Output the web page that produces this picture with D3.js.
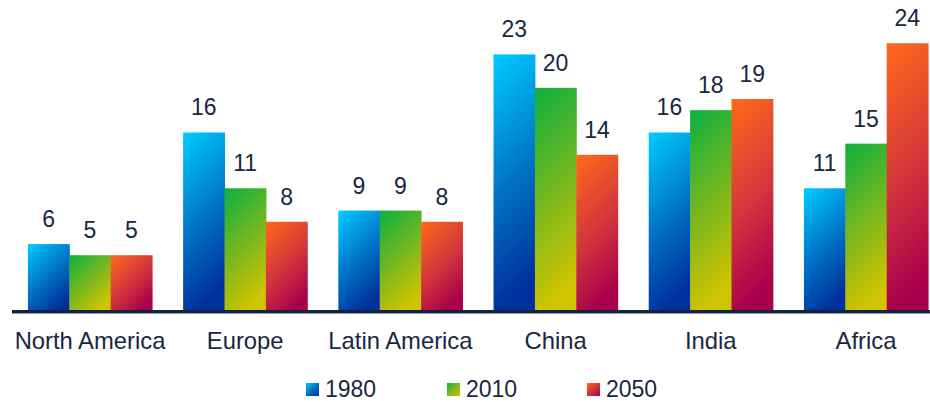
<!DOCTYPE html>
<html>
<head>
<meta charset="utf-8">
<script src="https://cdn.jsdelivr.net/npm/d3@7"></script>
<style>
  html, body { margin: 0; padding: 0; background: #fff; }
  svg { display: block; }
  text { font-family: "Liberation Sans", Arial, sans-serif; fill: #17273f; }
</style>
</head>
<body>
<svg id="chart" width="930" height="402"></svg>
<script>
// Regions and the three years compared
const regions = ["North America", "Europe", "Latin America", "China", "India", "Africa"];
const years = ["1980", "2010", "2050"];

// Values per year, in region order
const values1980 = [6, 16, 9, 23, 16, 11];
const values2010 = [5, 11, 9, 20, 18, 15];
const values2050 = [5, 8, 8, 14, 19, 24];

const seriesValues = [values1980, values2010, values2050];

// Gradient stops (top-left → bottom-right) for each year
const palettes = [
  ["#00ccff", "#0070c4", "#00309c"],
  ["#0bb040", "#7fb81c", "#d0c400"],
  ["#ff6a1a", "#d2343c", "#a8004c"]
];

const W = 930, H = 402;
const baseY = 311;
const svg = d3.select("#chart");
const defs = svg.append("defs");

const x0 = d3.scaleBand().domain(regions).range([12.4, 943.6]).paddingInner(0.2).paddingOuter(0.1);
const x1 = d3.scaleBand().domain(years).range([0, x0.bandwidth()]).padding(0);
const y = d3.scaleLinear().domain([0, 24.2]).range([baseY, 41]);

const data = [];
regions.forEach((r, i) => {
  years.forEach((yr, j) => {
    data.push({ region: r, year: yr, s: j, value: seriesValues[j][i], id: `g${i}_${j}` });
  });
});

// One diagonal gradient per bar so the 45° bands span the bar from corner to corner
data.forEach(d => {
  const bx = x0(d.region) + x1(d.year);
  const bw = x1.bandwidth();
  const top = y(d.value);
  const h = baseY - top;
  const span = (bw + h) / 2;
  const g = defs.append("linearGradient")
    .attr("id", d.id)
    .attr("gradientUnits", "userSpaceOnUse")
    .attr("x1", bx).attr("y1", top)
    .attr("x2", bx + span).attr("y2", top + span);
  const p = palettes[d.s];
  g.append("stop").attr("offset", 0).attr("stop-color", p[0]);
  g.append("stop").attr("offset", 0.5).attr("stop-color", p[1]);
  g.append("stop").attr("offset", 0.88).attr("stop-color", p[2]);
  g.append("stop").attr("offset", 1).attr("stop-color", p[2]);
});

// Bars
svg.append("g").selectAll("rect").data(data).join("rect")
  .attr("x", d => x0(d.region) + x1(d.year))
  .attr("y", d => y(d.value))
  .attr("width", x1.bandwidth() + 0.5)
  .attr("height", d => baseY - y(d.value))
  .attr("fill", d => `url(#${d.id})`);

// Value labels
svg.append("g").selectAll("text").data(data).join("text")
  .attr("x", d => x0(d.region) + x1(d.year) + x1.bandwidth() / 2)
  .attr("y", d => y(d.value) - 17)
  .attr("text-anchor", "middle")
  .attr("font-size", 23)
  .text(d => d.value);

// Baseline axis
svg.append("line").attr("x1", 12).attr("x2", W).attr("y1", baseY + 2.5).attr("y2", baseY + 2.5)
  .attr("stroke", "#8a99ad").attr("stroke-width", 1);
svg.append("line").attr("x1", 12).attr("x2", W).attr("y1", baseY + 0.5).attr("y2", baseY + 0.5)
  .attr("stroke", "#13233b").attr("stroke-width", 3);

// Category axis labels
const xAxis = d3.axisBottom(x0).tickSize(0).tickPadding(0);
const axisG = svg.append("g").attr("transform", `translate(0,${baseY})`).call(xAxis);
axisG.select(".domain").remove();
axisG.selectAll("text")
  .attr("y", 38)
  .attr("dy", 0)
  .attr("font-size", 23.8)
  .style("font-family", '"Liberation Sans", Arial, sans-serif')
  .attr("fill", "#17273f");

// Legend
const legendX = [306, 447, 587];
const legend = svg.append("g");
years.forEach((yr, j) => {
  const gid = `leg${j}`;
  const g = defs.append("linearGradient").attr("id", gid)
    .attr("x1", 0).attr("y1", 0).attr("x2", 1).attr("y2", 1);
  g.append("stop").attr("offset", 0).attr("stop-color", palettes[j][0]);
  g.append("stop").attr("offset", 0.5).attr("stop-color", palettes[j][1]);
  g.append("stop").attr("offset", 1).attr("stop-color", palettes[j][2]);
  legend.append("rect").attr("x", legendX[j]).attr("y", 383).attr("width", 13).attr("height", 13)
    .attr("fill", `url(#${gid})`);
  legend.append("text").attr("x", legendX[j] + 19).attr("y", 397).attr("font-size", 23).text(yr);
});
</script>
</body>
</html>
